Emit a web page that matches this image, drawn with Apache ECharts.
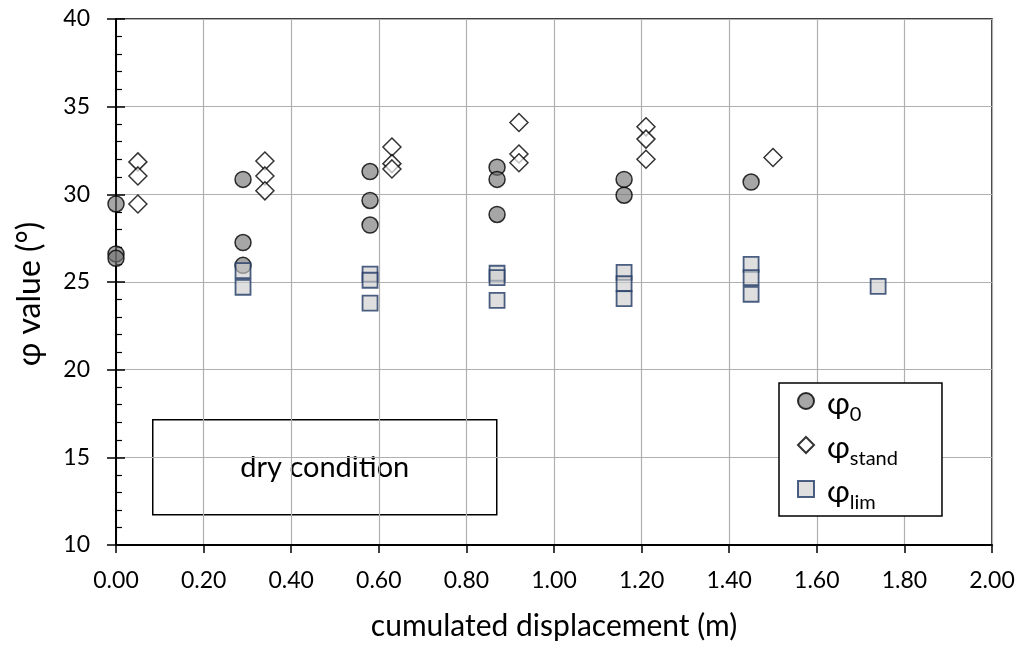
<!DOCTYPE html>
<html>
<head>
<meta charset="utf-8">
<script src="https://cdn.jsdelivr.net/npm/echarts@6/dist/echarts.min.js"></script>
<style>html,body{margin:0;padding:0;background:#fff}#c{width:1021px;height:646px}</style>
</head>
<body>
<div id="c"></div>
<script>
// cumulated displacement (m) and phi values (deg)
const phi0X = [0, 0, 0, 0.29, 0.29, 0.29, 0.58, 0.58, 0.58, 0.87, 0.87, 0.87, 1.16, 1.16, 1.45];
const phi0Y = [29.45, 26.6, 26.35, 30.85, 27.25, 25.95, 31.3, 29.65, 28.25, 31.55, 30.85, 28.85, 30.85, 29.95, 30.7];
const standX = [0.05, 0.05, 0.05, 0.34, 0.34, 0.34, 0.63, 0.63, 0.63, 0.92, 0.92, 0.92, 1.21, 1.21, 1.21, 1.50];
const standY = [31.85, 31.05, 29.45, 31.9, 31.05, 30.2, 32.7, 31.75, 31.45, 34.1, 32.3, 31.8, 33.85, 33.15, 32.0, 32.1];
const limX = [0.29, 0.29, 0.58, 0.58, 0.58, 0.87, 0.87, 0.87, 1.16, 1.16, 1.16, 1.45, 1.45, 1.45, 1.74];
const limY = [25.65, 24.7, 25.45, 25.1, 23.8, 25.5, 25.25, 23.95, 25.55, 24.9, 24.05, 26.0, 25.25, 24.3, 24.75];
const seriesNames = ['φ0', 'φstand', 'φlim'];
const legendSubs = {'φ0': '0', 'φstand': 'stand', 'φlim': 'lim'};
const xTitle = 'cumulated displacement (m)';
const yTitle = 'φ value (°)';
const noteText = 'dry condition';

const pairs = (xs, ys) => xs.map((x, i) => [x, ys[i]]);
const FONT = 'Lato, Carlito, "Open Sans", sans-serif';

const chart = echarts.init(document.getElementById('c'), null, {renderer: 'canvas'});
chart.setOption({
  animation: false,
  backgroundColor: '#fff',
  textStyle: {fontFamily: FONT},
  grid: {left: 116, right: 29, top: 19, bottom: 100, show: true, borderColor: '#000', borderWidth: 1.5, backgroundColor: 'transparent'},
  xAxis: {
    type: 'value', min: 0, max: 2, interval: 0.2,
    name: xTitle, nameLocation: 'middle', nameGap: 66,
    nameTextStyle: {fontSize: 30, color: '#000', fontFamily: FONT},
    axisLine: {show: true, onZero: false, lineStyle: {color: '#000', width: 2}},
    axisTick: {show: true, inside: false, length: 8, lineStyle: {color: '#000', width: 1.5}},
    axisLabel: {fontSize: 23, color: '#000', margin: 24, formatter: v => v.toFixed(2), fontFamily: FONT},
    splitLine: {show: true, lineStyle: {color: '#b0b0b0', width: 1.2}}
  },
  yAxis: [{
    type: 'value', min: 10, max: 40, interval: 5,
    name: yTitle, nameLocation: 'middle', nameGap: 70,
    nameTextStyle: {fontSize: 32, color: '#000', fontFamily: FONT, padding: [0, 24, 0, 0]},
    axisLine: {show: true, onZero: false, lineStyle: {color: '#000', width: 2}},
    axisTick: {show: true, inside: false, length: 9, lineStyle: {color: '#000', width: 1.5}},
    axisLabel: {fontSize: 23, color: '#000', margin: 26, fontFamily: FONT},
    splitLine: {show: true, lineStyle: {color: '#b0b0b0', width: 1.2}}
  }, {
    type: 'value', min: 10, max: 40, interval: 5, position: 'left',
    axisLine: {show: false},
    axisTick: {show: true, inside: true, length: 9, lineStyle: {color: '#000', width: 1.5}},
    minorTick: {show: true, splitNumber: 5, length: 6, lineStyle: {color: '#000', width: 1.2}},
    axisLabel: {show: false},
    splitLine: {show: false}
  }],
  legend: {
    orient: 'vertical', left: 779, top: 383,
    padding: [5, 44, 3, 18], itemGap: 7,
    borderColor: '#000', borderWidth: 1.5, backgroundColor: '#fff',
    itemWidth: 16, itemHeight: 16,
    data: seriesNames,
    formatter: n => '{p|φ}{s|' + legendSubs[n] + '}',
    textStyle: {
      color: '#000', fontFamily: FONT,
      rich: {
        p: {fontSize: 31, fontFamily: FONT, lineHeight: 36, verticalAlign: 'bottom', padding: [0, 0, 0, 8]},
        s: {fontSize: 20, fontFamily: FONT, lineHeight: 36, verticalAlign: 'bottom', padding: [0, 0, -6, 0]}
      }
    }
  },
  graphic: [{
    type: 'group', left: 152, top: 419, z: 10,
    children: [{
      type: 'rect', shape: {x: 0, y: 0, width: 344, height: 95},
      style: {fill: '#fff', stroke: '#000', lineWidth: 1.5}
    }, {
      type: 'text', x: 172, y: 48,
      style: {text: noteText, fontSize: 29, fontFamily: FONT, fill: '#000', align: 'center', verticalAlign: 'middle'}
    }]
  }],
  series: [{
    name: seriesNames[0], type: 'scatter', data: pairs(phi0X, phi0Y),
    symbol: 'circle', symbolSize: 16,
    itemStyle: {color: 'rgba(115,115,115,0.8)', borderColor: '#000', borderWidth: 1.5}
  }, {
    name: seriesNames[1], type: 'scatter', data: pairs(standX, standY),
    symbol: 'diamond', symbolSize: 18,
    itemStyle: {color: 'rgba(255,255,255,0.85)', borderColor: '#000', borderWidth: 1.5}
  }, {
    name: seriesNames[2], type: 'scatter', data: pairs(limX, limY),
    symbol: 'rect', symbolSize: 15,
    itemStyle: {color: 'rgba(205,205,205,0.8)', borderColor: '#1f3864', borderWidth: 1.8}
  }]
});
</script>
</body>
</html>
